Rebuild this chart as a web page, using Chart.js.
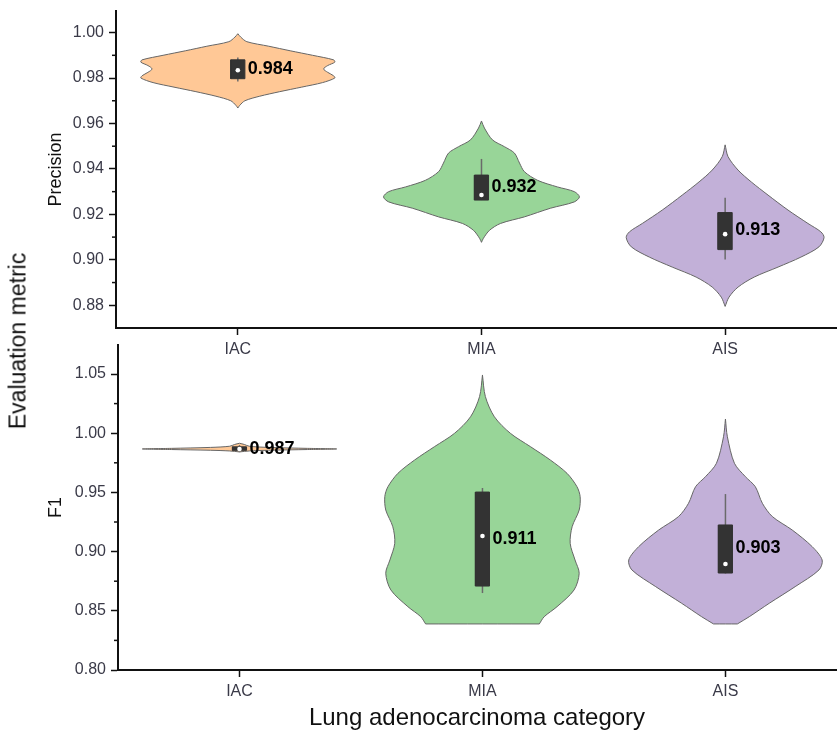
<!DOCTYPE html>
<html>
<head>
<meta charset="utf-8">
<script src="https://cdn.jsdelivr.net/npm/chart.js@4.4.1/dist/chart.umd.min.js"></script>
<style>
  body { margin: 0; background: #fff; }
  #wrap { position: relative; width: 840px; height: 736px; overflow: hidden; font-family: "Liberation Sans", Arial, sans-serif; }
  canvas { position: absolute; left: 0; }
  #top { top: 0; }
  #bottom { top: 330px; }
  #ylab { position: absolute; left: 18px; top: 341px; transform: translate(-50%, -50%) rotate(-90deg);
          font-size: 23px; white-space: nowrap; color: #111; }
</style>
</head>
<body>
<div id="wrap">
  <canvas id="top" width="840" height="370"></canvas>
  <canvas id="bottom" width="840" height="406"></canvas>
  <div id="ylab">Evaluation metric</div>
</div>
<script>
// categories and colours
const categories = ['IAC', 'MIA', 'AIS'];
const fills = ['#FFC896', '#98D598', '#C2B0D8'];

// Precision panel
const precisionTicks = [0.88, 0.90, 0.92, 0.94, 0.96, 0.98, 1.00];
const precisionMinor = [0.89, 0.91, 0.93, 0.95, 0.97, 0.99];
const precisionMean = [0.984, 0.932, 0.913];
const precisionQ1 = [0.9797, 0.9263, 0.9045];
const precisionQ3 = [0.9880, 0.9373, 0.9208];
const precisionLow = [0.9785, 0.9263, 0.9001];
const precisionHigh = [0.9890, 0.9444, 0.9273];
const precisionMedian = [0.9834, 0.9285, 0.9113];
// violin outlines: metric value -> half width (in category units)
const precisionViolinV = [
  [0.9995, 0.998, 0.996, 0.994, 0.992, 0.990, 0.988, 0.987, 0.9855, 0.984, 0.9825, 0.981, 0.980, 0.978, 0.976, 0.974, 0.972, 0.970, 0.968, 0.9668],
  [0.9611, 0.958, 0.9528, 0.9498, 0.947, 0.9426, 0.9388, 0.935, 0.9321, 0.930, 0.9277, 0.9255, 0.9227, 0.9189, 0.916, 0.913, 0.9095, 0.9077],
  [0.9506, 0.9454, 0.9395, 0.9343, 0.9285, 0.9219, 0.916, 0.9123, 0.9098, 0.9057, 0.9012, 0.8968, 0.8924, 0.888, 0.8836, 0.8795]
];
const precisionViolinW = [
  [0, 0.012, 0.037, 0.127, 0.215, 0.307, 0.393, 0.398, 0.369, 0.352, 0.369, 0.393, 0.398, 0.348, 0.262, 0.172, 0.090, 0.029, 0.008, 0],
  [0, 0.012, 0.045, 0.094, 0.135, 0.156, 0.176, 0.230, 0.311, 0.381, 0.402, 0.381, 0.283, 0.176, 0.078, 0.033, 0.008, 0],
  [0, 0.012, 0.053, 0.107, 0.176, 0.258, 0.340, 0.393, 0.406, 0.385, 0.311, 0.217, 0.119, 0.053, 0.016, 0]
];

// F1 panel
const f1Ticks = [0.80, 0.85, 0.90, 0.95, 1.00, 1.05];
const f1Minor = [0.825, 0.875, 0.925, 0.975, 1.025];
const f1Mean = [0.987, 0.911, 0.903];
const f1Q1 = [0.9855, 0.8709, 0.8819];
const f1Q3 = [0.9885, 0.9503, 0.9225];
const f1Low = [0.9840, 0.8650, 0.8815];
const f1High = [0.9900, 0.9537, 0.9486];
const f1Median = [0.9867, 0.9132, 0.8895];
const f1ViolinV = [
  [0.9915, 0.9905, 0.989, 0.988, 0.9872, 0.9867, 0.9862, 0.9856, 0.985, 0.9842],
  [1.0492, 1.0309, 1.0139, 0.9999, 0.9887, 0.9774, 0.9661, 0.9548, 0.9464, 0.9351, 0.9210, 0.9070, 0.8929, 0.8817, 0.8676, 0.8535, 0.8450, 0.8389],
  [1.012, 0.997, 0.9746, 0.9633, 0.9548, 0.9408, 0.9296, 0.9182, 0.9042, 0.8929, 0.8845, 0.8704, 0.8563, 0.8450, 0.8389]
];
const f1ViolinW = [
  [0, 0.02, 0.04, 0.12, 0.28, 0.40, 0.28, 0.12, 0.04, 0],
  [0, 0.012, 0.049, 0.115, 0.197, 0.279, 0.348, 0.389, 0.402, 0.398, 0.369, 0.361, 0.381, 0.398, 0.377, 0.307, 0.254, 0.234],
  [0, 0.008, 0.037, 0.082, 0.123, 0.152, 0.193, 0.275, 0.357, 0.398, 0.385, 0.287, 0.180, 0.098, 0.049]
];

const FONT = '"Liberation Sans", Arial, sans-serif';
const boxHalf = 0.029;
const labelGap = 0.041;

function buildDatasets(vv, vw, q1, q3, lo, hi, med) {
  const ds = [];
  categories.forEach((c, i) => {
    const x0 = i + 1;
    const v = vv[i], w = vw[i];
    const n = v.length - 1;
    const pts = v.map((y, k) => ({ x: x0 + w[k], y: y }));
    // a truncated (flat) bottom gets doubled corners so the spline keeps it straight
    if (w[n] > 0) pts.push({ x: x0 + w[n], y: v[n] }, { x: x0 - w[n], y: v[n] });
    for (let k = n; k >= 0; k--) pts.push({ x: x0 - w[k], y: v[k] });
    pts.push(pts[0]);
    ds.push({ data: pts, borderColor: '#666', borderWidth: 1, backgroundColor: fills[i],
      fill: 'shape', pointRadius: 0, tension: 0.3, order: 4 });
    // whisker
    ds.push({ data: [{ x: x0, y: lo[i] }, { x: x0, y: hi[i] }], borderColor: '#6a6a6a',
      borderWidth: 1.5, pointRadius: 0, fill: false, order: 3 });
    // box
    ds.push({ data: [
        { x: x0 - boxHalf, y: q1[i] }, { x: x0 + boxHalf, y: q1[i] },
        { x: x0 + boxHalf, y: q3[i] }, { x: x0 - boxHalf, y: q3[i] }, { x: x0 - boxHalf, y: q1[i] }
      ], borderColor: '#333', backgroundColor: '#333', borderWidth: 1, fill: 'shape', pointRadius: 0, order: 2 });
    // median
    ds.push({ data: [{ x: x0, y: med[i] }], showLine: false, pointRadius: 2.3,
      pointBackgroundColor: '#fff', pointBorderWidth: 0, order: 1 });
  });
  return ds;
}

function annotate(means, minor) {
  return {
    id: 'annotate',
    afterDatasetsDraw(chart) {
      const { ctx, scales: { x, y } } = chart;
      ctx.save();
      ctx.font = 'bold 18px ' + FONT;
      ctx.fillStyle = '#000';
      ctx.textAlign = 'left';
      ctx.textBaseline = 'middle';
      means.forEach((m, i) => {
        ctx.fillText(m.toFixed(3), x.getPixelForValue(i + 1 + labelGap), y.getPixelForValue(m));
      });
      ctx.restore();
    },
    afterDraw(chart) {
      const { ctx, scales: { y } } = chart;
      ctx.save();
      ctx.strokeStyle = '#111';
      ctx.lineWidth = 1.5;
      minor.forEach(v => {
        const py = y.getPixelForValue(v);
        ctx.beginPath();
        ctx.moveTo(y.right - 4, py);
        ctx.lineTo(y.right, py);
        ctx.stroke();
      });
      ctx.restore();
    }
  };
}

function makeOptions(o) {
  const axisGrid = { drawOnChartArea: false, tickLength: 7, tickWidth: 1.5, tickColor: '#111' };
  const axisBorder = { color: '#111', width: 2 };
  return {
    responsive: false,
    animation: false,
    layout: { padding: { top: o.padTop, left: 0, right: 0, bottom: 0 } },
    plugins: { legend: { display: false }, tooltip: { enabled: false } },
    scales: {
      x: {
        type: 'linear', min: 0.5, max: 3.455,
        afterBuildTicks: s => { s.ticks = categories.map((c, i) => ({ value: i + 1 })); },
        afterFit: s => { s.height = o.xHeight; s.paddingLeft = 0; s.paddingRight = 0; },
        ticks: { callback: v => categories[Math.round(v) - 1], font: { size: 16, family: FONT },
          color: '#3a3a48', padding: 5, maxRotation: 0, autoSkip: false },
        grid: axisGrid,
        border: axisBorder,
        title: o.xTitle
          ? { display: true, text: o.xTitle, font: { size: 24, family: FONT }, color: '#111', padding: { top: 0, bottom: 3 } }
          : { display: false }
      },
      y: {
        type: 'linear', min: o.yMin, max: o.yMax,
        afterBuildTicks: s => { s.ticks = o.yTicks.map(v => ({ value: v })); },
        afterFit: s => { s.width = o.yWidth; s.paddingTop = 0; s.paddingBottom = 0; },
        ticks: { callback: v => v.toFixed(2), font: { size: 16, family: FONT }, color: '#3a3a48', padding: 5 },
        grid: axisGrid,
        border: axisBorder,
        title: { display: true, text: o.yTitle, font: { size: 18, family: FONT }, color: '#111', padding: { top: 45, bottom: 0 } }
      }
    }
  };
}

new Chart(document.getElementById('top'), {
  type: 'line',
  data: { datasets: buildDatasets(precisionViolinV, precisionViolinW, precisionQ1, precisionQ3,
    precisionLow, precisionHigh, precisionMedian) },
  options: makeOptions({ padTop: 11, xHeight: 42, yWidth: 116, yMin: 0.87, yMax: 1.0095,
    yTicks: precisionTicks, yTitle: 'Precision' }),
  plugins: [annotate(precisionMean, precisionMinor)]
});

new Chart(document.getElementById('bottom'), {
  type: 'line',
  data: { datasets: buildDatasets(f1ViolinV, f1ViolinW, f1Q1, f1Q3, f1Low, f1High, f1Median) },
  options: makeOptions({ padTop: 15, xHeight: 66, yWidth: 118, yMin: 0.80, yMax: 1.0745,
    yTicks: f1Ticks, yTitle: 'F1', xTitle: 'Lung adenocarcinoma category' }),
  plugins: [annotate(f1Mean, f1Minor)]
});
</script>
</body>
</html>
